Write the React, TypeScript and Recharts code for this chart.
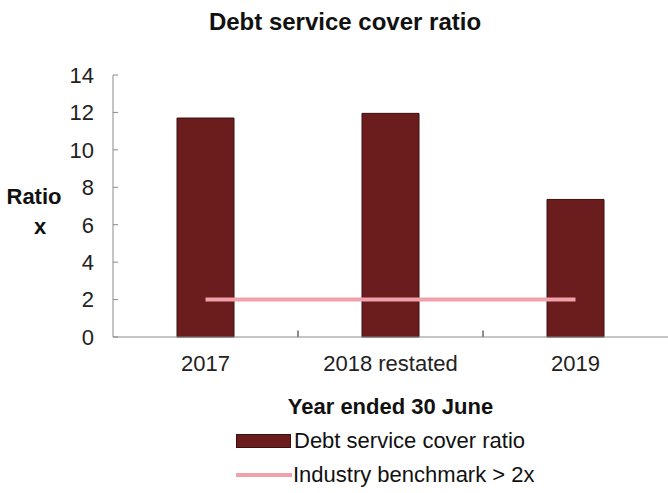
import { ComposedChart, Bar, Line, XAxis, YAxis, ReferenceLine } from 'recharts';

const years = ['2017', '2018 restated', '2019'];
const dscr = [11.7, 11.95, 7.35];
const benchmark = [2, 2, 2];
const yTicks = [0, 2, 4, 6, 8, 10, 12, 14];
const bandTicks = [1, 2];

const data = years.map((year, i) => ({ year, idx: i + 0.5, dscr: dscr[i], benchmark: benchmark[i] }));

const font = '"Liberation Sans", Arial, sans-serif';
const axisGray = '#8a8a8a';

const RatioLabel = ({ viewBox }: any) => {
  const x = 34;
  const y = viewBox.y + viewBox.height / 2;
  return (
    <text x={x} y={y} textAnchor="middle" fontFamily={font} fontWeight="bold" fontSize={22} fill="#111">
      <tspan x={x} dy={-2}>Ratio</tspan>
      <tspan x={x + 6} dy={30}>x</tspan>
    </text>
  );
};

const LegendBox = () => (
  <div style={{ position: 'absolute', left: 236, top: 424, fontFamily: font, fontSize: 22, color: '#111', lineHeight: '34px', whiteSpace: 'nowrap' }}>
    <div style={{ display: 'flex', alignItems: 'center' }}>
      <span style={{ display: 'inline-block', width: 53, height: 12, background: '#6b1c1c', border: '1px solid #3a1010', marginRight: 3 }} />
      Debt service cover ratio
    </div>
    <div style={{ display: 'flex', alignItems: 'center' }}>
      <span style={{ display: 'inline-block', width: 56, height: 4, background: '#f2a0aa', marginRight: 1 }} />
      Industry benchmark &gt; 2x
    </div>
  </div>
);

export default function App() {
  return (
    <div style={{ position: 'absolute', left: 0, top: 0, width: 668, height: 493, background: '#fff', overflow: 'hidden' }}>
      <div style={{ position: 'absolute', top: 8, left: 0, width: 690, textAlign: 'center', fontFamily: font, fontWeight: 'bold', fontSize: 24, color: '#111' }}>
        Debt service cover ratio
      </div>
      <ComposedChart width={668} height={493} data={data} margin={{ top: 75, right: 0, bottom: 0, left: 0 }}>
        <XAxis
          dataKey="year"
          xAxisId="cat"
          tickLine={false}
          axisLine={{ stroke: axisGray }}
          tick={{ fontFamily: font, fontSize: 22, fill: '#222' }}
          tickMargin={12}
          height={156}
          label={{ value: 'Year ended 30 June', position: 'insideTop', offset: 61, fontFamily: font, fontWeight: 'bold', fontSize: 22, fill: '#111' }}
        />
        <XAxis xAxisId="band" type="number" dataKey="idx" domain={[0, 3]} allowDataOverflow height={0} hide />
        <YAxis
          domain={[0, 14]}
          ticks={yTicks}
          width={113}
          axisLine={{ stroke: axisGray }}
          tickLine={{ stroke: axisGray }}
          tickSize={-5}
          tickMargin={24}
          tick={{ fontFamily: font, fontSize: 22, fill: '#222' }}
          label={<RatioLabel />}
        />
        {bandTicks.map((t) => (
          <ReferenceLine
            key={t}
            xAxisId="band"
            segment={[{ x: t, y: 0 }, { x: t, y: 0.35 }]}
            stroke="#666"
            strokeWidth={1.5}
            ifOverflow="visible"
          />
        ))}
        <Bar xAxisId="cat" dataKey="dscr" barSize={57} fill="#6b1c1c" stroke="#3a1010" strokeWidth={1} isAnimationActive={false} />
        <Line xAxisId="cat" dataKey="benchmark" stroke="#f2a0aa" strokeWidth={4} dot={false} isAnimationActive={false} />
      </ComposedChart>
      <LegendBox />
    </div>
  );
}
